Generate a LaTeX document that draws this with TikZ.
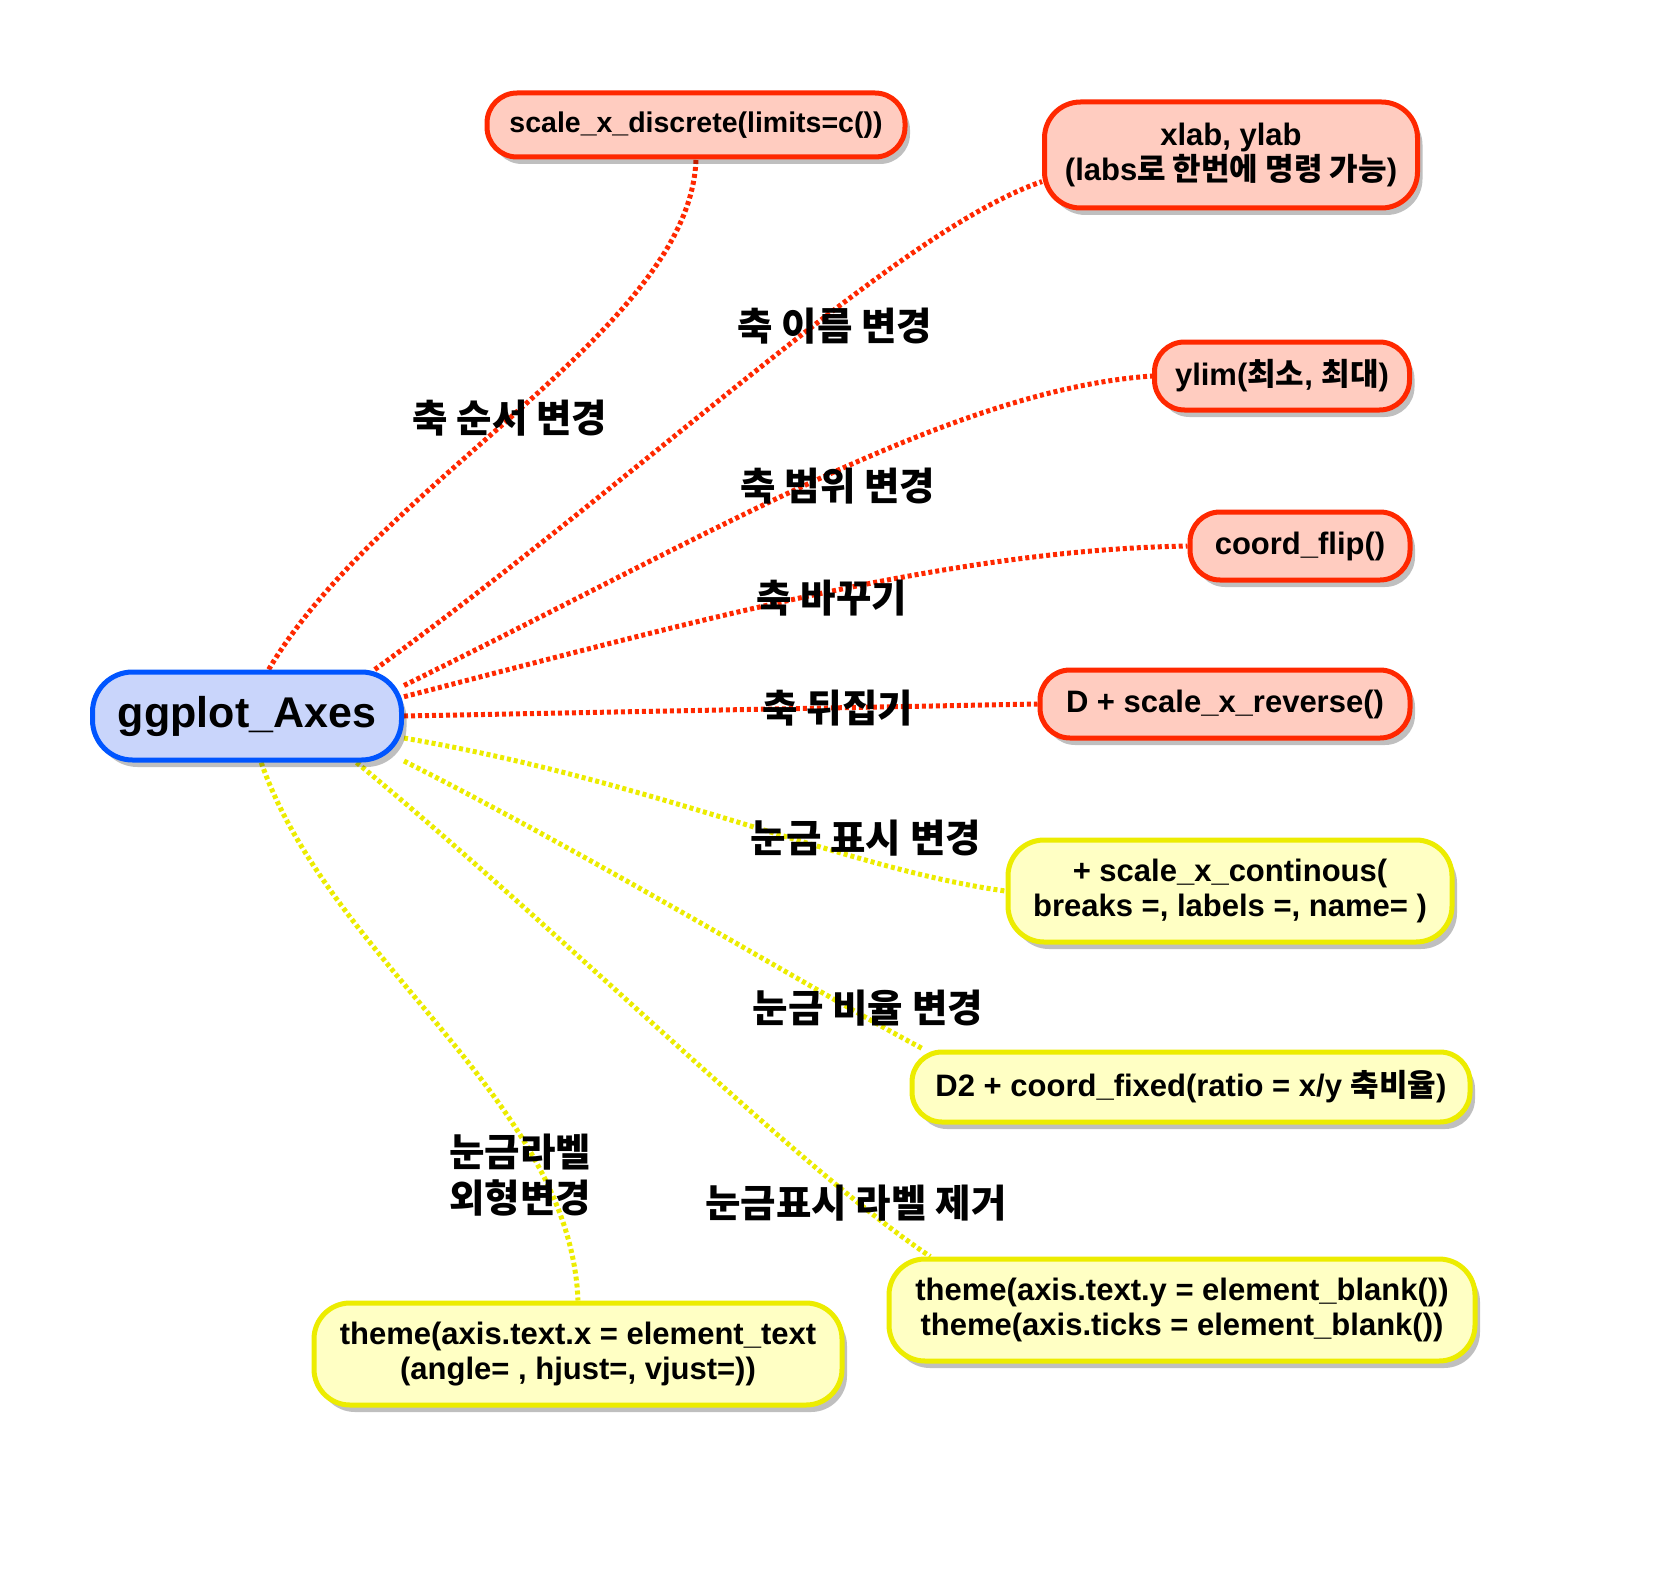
\documentclass[tikz,border=0pt]{standalone}
\usepackage{fontspec}
\setmainfont{Liberation Sans}
\newfontfamily\kr{Noto Sans CJK KR}
\usetikzlibrary{shadows}

\definecolor{axred}{RGB}{255,40,0}
\definecolor{axpink}{RGB}{255,204,192}
\definecolor{axblue}{RGB}{0,85,255}
\definecolor{axlblue}{RGB}{201,213,251}
\definecolor{axyellow}{RGB}{236,236,0}
\definecolor{axcream}{RGB}{255,255,196}

\pgfdeclarelayer{background}
\pgfsetlayers{background,main}

\tikzset{
  topic/.style={draw, line width=5pt, rounded corners=30pt, align=center,
    inner xsep=20pt, inner ysep=10pt,
    font=\fontsize{31}{35}\selectfont\bfseries,
    drop shadow={shadow xshift=5pt, shadow yshift=-7pt, opacity=0.25, fill=black}},
  redtopic/.style={topic, draw=axred, fill=axpink},
  yellowtopic/.style={topic, draw=axyellow, fill=axcream},
  hint/.style={font=\kr\fontsize{38.5}{46}\selectfont\bfseries, align=center},
  redlink/.style={draw=axred, line width=5pt, dash pattern=on 4pt off 3pt},
  yellowlink/.style={draw=axyellow, line width=5pt, dash pattern=on 4pt off 3pt}
}

\begin{document}
\begin{tikzpicture}[x=1pt,y=-1pt]
    \useasboundingbox (0,0) rectangle (1653,1578);

    % root
    \node[topic, draw=axblue, fill=axlblue, minimum width=309pt, minimum height=88pt,
          rounded corners=40pt, font=\fontsize{43}{48}\selectfont\bfseries] (root) at (247,716) {ggplot\_Axes};

    % red branches
    \node[redtopic, minimum width=418pt, minimum height=64pt, font=\fontsize{28.5}{33}\selectfont\bfseries] (disc) at (696,125) {scale\_x\_discrete(limits=c())};
    \node[redtopic, minimum width=373pt, minimum height=106pt, rounded corners=36pt] (xlab) at (1231,155) {xlab, ylab\\({}labs{\kr 로 한번에 명령 가능})};
    \node[redtopic, minimum width=255pt, minimum height=68pt] (ylim) at (1282,376) {ylim({\kr 최소}, {\kr 최대})};
    \node[redtopic, minimum width=220pt, minimum height=68pt] (flip) at (1300,546) {coord\_flip()};
    \node[redtopic, minimum width=370pt, minimum height=68pt] (rev) at (1225,704) {D + scale\_x\_reverse()};

    % yellow branches
    \node[yellowtopic, minimum width=444pt, minimum height=102pt, rounded corners=36pt] (cont) at (1230,891) {+ scale\_x\_continous(\\breaks =, labels =, name= )};
    \node[yellowtopic, minimum width=558pt, minimum height=70pt] (fixed) at (1191,1087) {D2 + coord\_fixed(ratio = x/y {\kr 축비율})};
    \node[yellowtopic, minimum width=586pt, minimum height=102pt, rounded corners=36pt] (themey) at (1182,1310) {theme(axis.text.y = element\_blank())\\theme(axis.ticks = element\_blank())};
    \node[yellowtopic, minimum width=528pt, minimum height=102pt, rounded corners=36pt] (themex) at (578,1354) {theme(axis.text.x = element\_text\\(angle= , hjust=, vjust=))};

    % connectors
    \begin{pgfonlayer}{background}
        \draw[redlink] (root.65) .. controls (380,480) and (690,330) .. (disc.south);
        \draw[redlink] (root.20) .. controls (650,470) and (900,230) .. (xlab.188);
        \draw[redlink] (root.11) .. controls (700,540) and (950,390) .. (ylim.west);
        \draw[redlink] (root.7) .. controls (700,620) and (950,550) .. (flip.west);
        \draw[redlink] (root.east) -- (rev.west);
        \draw[yellowlink] (root.352) .. controls (650,780) and (850,870) .. (cont.west);
        \draw[yellowlink] (root.344) .. controls (600,860) and (830,1000) .. (fixed.172);
        \draw[yellowlink] (root.337) .. controls (560,930) and (800,1170) .. (themey.168);
        \draw[yellowlink] (root.287) .. controls (330,960) and (570,1100) .. (themex.north);
    \end{pgfonlayer}

    % branch labels
    \node[hint] (order) at (510,418) {축 순서 변경};
    \node[hint] (name) at (835,326) {축 이름 변경};
    \node[hint] (range) at (838,486) {축 범위 변경};
    \node[hint] (swap) at (832,598) {축 바꾸기};
    \node[hint] (flipl) at (838,708) {축 뒤집기};
    \node[hint] (tick) at (866,838) {눈금 표시 변경};
    \node[hint] (ratio) at (868,1008) {눈금 비율 변경};
    \node[hint] (look) at (520,1175) {눈금라벨\\외형변경};
    \node[hint] (blank) at (856,1203) {눈금표시 라벨 제거};
\end{tikzpicture}
\end{document}
